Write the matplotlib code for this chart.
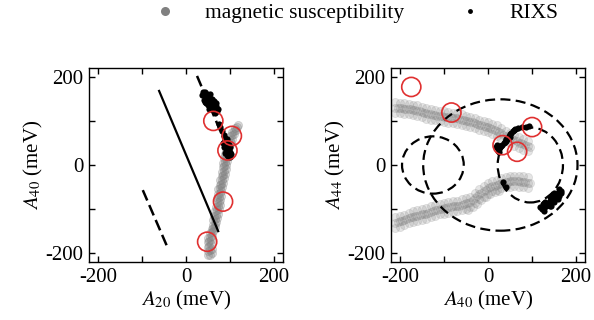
import matplotlib
matplotlib.use("Agg")
import matplotlib.pyplot as plt
from matplotlib.lines import Line2D
from matplotlib.patches import Ellipse

plt.rcParams['font.family'] = 'Liberation Serif'
plt.rcParams['mathtext.fontset'] = 'stix'
plt.rcParams['axes.unicode_minus'] = False

# magnetic susceptibility solutions, left panel (A20, A40)
chi_l_a20 = [51, 50, 49, 49, 50, 54, 58, 61, 62, 64, 66, 68, 70, 71, 72, 73, 76, 78, 81, 82,
             83, 84, 86, 88, 90, 93, 96, 100, 105, 111,
             59, 58, 57, 57, 58, 62, 66, 69, 70, 72, 74, 76, 78, 79, 80, 81, 84, 86, 89, 90,
             91, 92, 94, 96, 98, 101, 104, 108, 113, 119,
             55, 54, 53, 53, 54, 58, 62, 65, 66, 68, 70, 72, 74, 75, 76, 77, 80, 82, 85, 86,
             87, 88, 90, 92, 94, 97, 100, 104, 109, 115]
chi_l_a40 = [-205, -195, -185, -175, -165, -155, -145, -135, -125, -115, -105, -95, -85, -75, -65,
             -55, -45, -35, -25, -15, -5, 5, 15, 25, 35, 45, 55, 65, 75, 85,
             -200, -190, -180, -170, -160, -150, -140, -130, -120, -110, -100, -90, -80, -70, -60,
             -50, -40, -30, -20, -10, 0, 10, 20, 30, 40, 50, 60, 70, 80, 90,
             -203, -193, -183, -173, -163, -153, -143, -133, -123, -113, -103, -93, -83, -73, -63,
             -53, -43, -33, -23, -13, -3, 7, 17, 27, 37, 47, 57, 67, 77, 87]

# right panel (A40, A44), upper branch
chi_up_a40 = [-210, -200, -190, -180, -170, -160, -150, -140, -130, -120, -110, -100, -90, -80, -70,
              -60, -50, -40, -30, -20, -10, 0, 10, 20, 30, 40, 50, 60, 70, 80, 90,
              -210, -200, -190, -180, -170, -160, -150, -140, -130, -120, -110, -100, -90, -80, -70,
              -60, -50, -40, -30, -20, -10, 0, 10, 20, 30, 40, 50, 60, 70, 80, 90,
              -210, -200, -190, -180, -170, -160, -150, -140, -130, -120, -110, -100, -90, -80, -70,
              -60, -50, -40, -30, -20, -10, 0, 10, 20, 30, 40, 50, 60, 70, 80, 90,
              -205, -195, -185, -175, -165, -155, -145, -135, -125, -115, -105, -95, -85, -75, -65,
              -55, -45, -35, -25, -15, -5, 5, 15, 25, 35, 45, 55, 65, 75, 85, 95]
chi_up_a44 = [130, 129, 128, 127, 125, 123, 120, 117, 115, 113, 111, 110, 108, 107, 106,
              103, 100, 98, 95, 91, 88, 86, 82, 78, 72, 66, 61, 56, 51, 47, 43,
              142, 141, 140, 139, 137, 135, 132, 129, 127, 125, 123, 122, 120, 119, 118,
              115, 112, 110, 107, 103, 100, 98, 94, 90, 84, 78, 73, 68, 63, 59, 55,
              118, 117, 116, 115, 113, 111, 108, 105, 103, 101, 99, 98, 96, 95, 94,
              91, 88, 86, 83, 79, 76, 74, 70, 66, 60, 54, 49, 44, 39, 35, 31,
              130, 129, 128, 126, 124, 122, 119, 116, 114, 112, 111, 109, 108, 107, 105,
              102, 99, 97, 93, 90, 87, 84, 80, 75, 69, 64, 59, 54, 49, 45, 41]

# right panel, lower branch
chi_lo_a40 = [-210, -200, -190, -180, -170, -160, -150, -140, -130, -120, -110, -100, -90, -80, -70,
              -60, -50, -40, -30, -20, -10, 0, 10, 20, 30, 40, 50, 60, 70, 80, 90,
              -210, -200, -190, -180, -170, -160, -150, -140, -130, -120, -110, -100, -90, -80, -70,
              -60, -50, -40, -30, -20, -10, 0, 10, 20, 30, 40, 50, 60, 70, 80, 90,
              -210, -200, -190, -180, -170, -160, -150, -140, -130, -120, -110, -100, -90, -80, -70,
              -60, -50, -40, -30, -20, -10, 0, 10, 20, 30, 40, 50, 60, 70, 80, 90,
              -205, -195, -185, -175, -165, -155, -145, -135, -125, -115, -105, -95, -85, -75, -65,
              -55, -45, -35, -25, -15, -5, 5, 15, 25, 35, 45, 55, 65, 75, 85, 95,
              -45, -35, -25, -15, -5, 5, 15, 25]
chi_lo_a44 = [-131, -128, -125, -120, -117, -115, -112, -110, -106, -103, -100, -98, -96, -94, -93,
              -90, -87, -84, -75, -66, -60, -53, -48, -45, -41, -39, -37, -36, -37, -38, -40,
              -119, -116, -113, -108, -105, -103, -100, -98, -94, -91, -88, -86, -84, -82, -81,
              -78, -75, -72, -63, -54, -48, -41, -36, -33, -29, -27, -25, -24, -25, -26, -28,
              -143, -140, -137, -132, -129, -127, -124, -122, -118, -115, -112, -110, -108, -106, -105,
              -102, -99, -96, -87, -78, -72, -65, -60, -57, -53, -51, -49, -48, -49, -50, -52,
              -130, -127, -123, -119, -116, -114, -111, -108, -105, -102, -99, -97, -95, -94, -92,
              -89, -86, -80, -71, -63, -57, -51, -47, -43, -40, -38, -37, -37, -38, -39, -41,
              -102, -96, -88, -80, -72, -66, -62, -60]

# RIXS solutions (A20, A40, A44)
rixs_a20 = [38, 42, 45, 40, 48, 52, 55, 50, 58, 60, 63, 65, 68, 70,
            36, 44, 48, 54, 46, 52, 56, 62, 66, 72, 60, 64, 56, 42, 50, 67,
            75, 78, 82, 86, 88,
            90, 86, 92, 88, 94, 90, 96, 92, 98, 94, 100, 97, 95, 98, 100,
            84, 86, 100, 102, 88, 96, 92, 98,
            93, 96]
rixs_a40 = [165, 158, 152, 148, 145, 155, 140, 135, 148, 132, 140, 126, 134, 122,
            158, 166, 160, 162, 140, 128, 130, 124, 118, 128, 150, 145, 150, 142, 150, 140,
            92, 86, 78, 68, 62,
            56, 52, 48, 44, 40, 36, 32, 28, 25, 22, 30, 38, 20, 26, 18,
            50, 40, 40, 24, 28, 50, 60, 45,
            34, 40]
rixs_a44 = [-60, -64, -70, -75, -78, -66, -82, -88, -72, -92, -85, -98, -90, -100,
            -76, -64, -54, -70, -72, -105, -84, -88, -96, -86, -84, -68, -64, -92, -80, -92,
            88, 87, 86, 84, 82,
            78, 72, 66, 60, 56, 50, 46, 40, 36, 32, 44, 52, 46, 30, 40,
            70, 58, 54, 38, 42, 64, 80, 62,
            -38, -50]

# selected solutions (red circles)
sel_a20 = [62, 104, 94, 84, 48]
sel_a40 = [100, 66, 33, -83, -174]
sel_a44 = [86, 30, 45, 119, 177]

# constraint lines in the (A20, A40) plane
solid_a20 = [-61, 73]
solid_a40 = [168, -150]
dash1_a20 = [-98, -41]
dash1_a40 = [-57, -189]
dash2_a20 = [25, 85]
dash2_a40 = [202, 60]

# constraint ellipses in the (A40, A44) plane: center, full width, full height
ell_cx = [28, 96, -125]
ell_cy = [0, 0, 0]
ell_w = [350, 148, 140]
ell_h = [298, 170, 130]

gray_kw = dict(s=34, color='gray', alpha=0.2, linewidths=0.6, edgecolors='gray')
rixs_kw = dict(s=20, color='black', linewidths=0, zorder=3)
sel_kw = dict(s=190, facecolors='none', edgecolors='#e03030', linewidths=1.2, zorder=4)

fig = plt.figure(figsize=(5.94, 3.2), dpi=100)
ax1 = fig.add_axes([89 / 594, 58 / 320, 194 / 594, 194 / 320])
ax2 = fig.add_axes([391 / 594, 58 / 320, 194 / 594, 194 / 320])

# left: A20 vs A40
ax1.scatter(chi_l_a20, chi_l_a40, **dict(gray_kw, alpha=0.3))
ax1.plot(solid_a20, solid_a40, color='black', lw=1.6)
ax1.plot(dash1_a20, dash1_a40, color='black', lw=1.8, ls=(0, (4.5, 2)))
ax1.plot(dash2_a20, dash2_a40, color='black', lw=1.8, ls=(0, (4.5, 2)))
ax1.scatter(rixs_a20, rixs_a40, **rixs_kw)
ax1.scatter(sel_a20, sel_a40, **sel_kw)
ax1.set_xlabel(r'$A_{20}$ (meV)', fontsize=15, labelpad=2)
ax1.set_ylabel(r'$A_{40}$ (meV)', fontsize=15, labelpad=0)

# right: A40 vs A44
ax2.scatter(chi_up_a40, chi_up_a44, **gray_kw)
ax2.scatter(chi_lo_a40, chi_lo_a44, **gray_kw)
for cx, cy, w, h in zip(ell_cx, ell_cy, ell_w, ell_h):
    ax2.add_patch(Ellipse((cx, cy), w, h, fill=False, edgecolor='black',
                          lw=1.6, ls=(0, (4.5, 2.4)), zorder=2))
ax2.scatter(rixs_a40, rixs_a44, **rixs_kw)
ax2.scatter(sel_a40, sel_a44, **sel_kw)
ax2.set_xlabel(r'$A_{40}$ (meV)', fontsize=15, labelpad=2)
ax2.set_ylabel(r'$A_{44}$ (meV)', fontsize=15, labelpad=0)

ticks = [-200, -100, 0, 100, 200]
tick_labels = ['-200', '', '0', '', '200']
for ax in (ax1, ax2):
    ax.set_xlim(-220, 220)
    ax.set_ylim(-220, 220)
    ax.set_xticks(ticks)
    ax.set_xticklabels(tick_labels)
    ax.set_yticks(ticks)
    ax.set_yticklabels(tick_labels)
    ax.tick_params(direction='in', top=True, right=True, length=4, width=1,
                   labelsize=15, pad=4)
    for sp in ax.spines.values():
        sp.set_linewidth(1.0)

handles = [Line2D([], [], ls='none', marker='o', ms=6.5, color='gray', mec='none'),
           Line2D([], [], ls='none', marker='o', ms=3.5, color='black', mec='none')]
fig.legend(handles, ['magnetic susceptibility', 'RIXS'], loc='center left',
           bbox_to_anchor=(154 / 594, 1 - 13 / 320), ncol=2, frameon=False,
           fontsize=15.5, handlelength=1.0, handletextpad=1.36, columnspacing=2.56,
           borderaxespad=0, borderpad=0)

fig.savefig('out.png', dpi=100)
